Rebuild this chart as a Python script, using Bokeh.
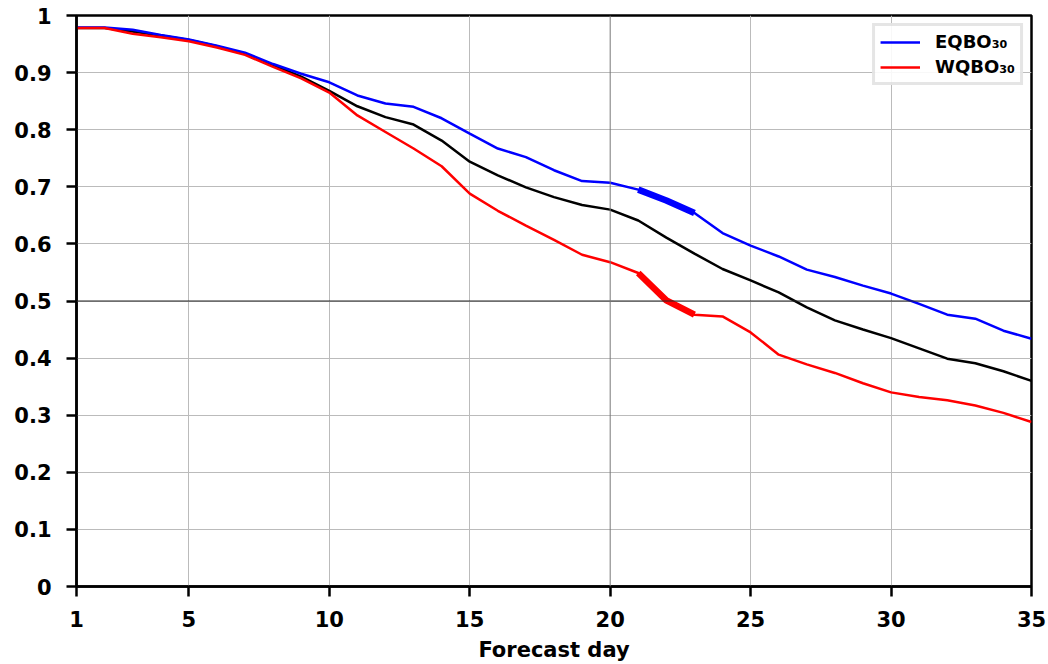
from bokeh.plotting import figure
from bokeh.models import FixedTicker, Span, Legend, LegendItem, Range1d
from bokeh.embed import file_html
from bokeh.resources import INLINE

days = list(range(1, 36))
eqbo = [0.979, 0.979, 0.975, 0.966, 0.958, 0.947, 0.935, 0.915, 0.898, 0.883,
        0.860, 0.846, 0.840, 0.820, 0.793, 0.767, 0.752, 0.729, 0.710, 0.707,
        0.695, 0.676, 0.654, 0.619, 0.597, 0.578, 0.555, 0.542, 0.527, 0.513,
        0.495, 0.476, 0.469, 0.448, 0.434]
allqbo = [0.978, 0.978, 0.972, 0.965, 0.957, 0.946, 0.933, 0.913, 0.893, 0.868,
          0.841, 0.822, 0.809, 0.781, 0.744, 0.720, 0.699, 0.682, 0.668, 0.660,
          0.641, 0.611, 0.583, 0.556, 0.536, 0.515, 0.489, 0.466, 0.450, 0.435,
          0.417, 0.399, 0.391, 0.377, 0.360]
wqbo = [0.978, 0.978, 0.968, 0.962, 0.955, 0.944, 0.931, 0.910, 0.890, 0.865,
        0.825, 0.796, 0.767, 0.736, 0.688, 0.658, 0.632, 0.607, 0.581, 0.568,
        0.549, 0.501, 0.476, 0.473, 0.445, 0.406, 0.389, 0.374, 0.356, 0.340,
        0.332, 0.326, 0.317, 0.304, 0.288]
sig_days = [21, 22, 23]
x_ticks = [1, 5, 10, 15, 20, 25, 30, 35]
y_ticks = [0, 0.1, 0.2, 0.3, 0.4, 0.5, 0.6, 0.7, 0.8, 0.9, 1]
y_labels = ["0", "0.1", "0.2", "0.3", "0.4", "0.5", "0.6", "0.7", "0.8", "0.9", "1"]
x_title = "Forecast day"

FONT = "DejaVu Sans"

p = figure(width=1048, height=664, output_backend="svg", toolbar_location=None,
           x_range=Range1d(1, 35), y_range=Range1d(0, 1),
           min_border_left=76, min_border_right=17, min_border_top=15, min_border_bottom=78)
p.background_fill_color = "white"
p.border_fill_color = "white"
p.outline_line_color = "black"
p.outline_line_width = 2.5

p.xaxis.ticker = FixedTicker(ticks=x_ticks)
p.yaxis.ticker = FixedTicker(ticks=y_ticks)
p.yaxis.major_label_overrides = {t: l for t, l in zip(y_ticks, y_labels)}
for ax in (p.xaxis, p.yaxis):
    ax.axis_line_width = 2.5
    ax.major_tick_line_width = 2.5
    ax.major_tick_out = 10
    ax.major_tick_in = 0
    ax.minor_tick_line_color = None
    ax.major_label_text_font = FONT
    ax.major_label_text_font_style = "bold"
    ax.major_label_text_font_size = "21px"
    ax.major_label_text_color = "black"
    ax.axis_label_text_font = FONT
    ax.axis_label_text_font_style = "bold"
    ax.axis_label_text_font_size = "21px"
    ax.axis_label_text_color = "black"
p.xaxis.axis_label = x_title
p.xaxis.major_label_standoff = 14
p.xaxis.axis_label_standoff = 8
p.yaxis.major_label_standoff = 15

p.xgrid.ticker = FixedTicker(ticks=[5, 10, 15, 25, 30])
p.xgrid.grid_line_color = "#bbbbbb"
p.xgrid.grid_line_width = 1
p.ygrid.grid_line_color = "#bbbbbb"
p.ygrid.grid_line_width = 1

p.add_layout(Span(location=0.5, dimension="width", line_color="#222222", line_width=1))
p.add_layout(Span(location=20, dimension="height", line_color="#777777", line_width=1))

p.line(days, allqbo, line_color="black", line_width=2.5)
rb = p.line(days, eqbo, line_color="#0000ff", line_width=2.5)
rr = p.line(days, wqbo, line_color="#ff0000", line_width=2.5)

i0 = days.index(sig_days[0]); i1 = days.index(sig_days[-1]) + 1
p.line(days[i0:i1], eqbo[i0:i1], line_color="#0000ff", line_width=6.5)
p.line(days[i0:i1], wqbo[i0:i1], line_color="#ff0000", line_width=6.5)

legend = Legend(items=[LegendItem(label="EQBO\u2083\u2080", renderers=[rb]),
                       LegendItem(label="WQBO\u2083\u2080", renderers=[rr])],
                location="top_right")
legend.label_text_font = FONT
legend.label_text_font_style = "bold"
legend.label_text_font_size = "18px"
legend.label_text_color = "black"
legend.label_standoff = 15
legend.border_line_color = "#cccccc"
legend.border_line_width = 3
legend.background_fill_color = "white"
legend.background_fill_alpha = 0.9
legend.glyph_width = 40
legend.spacing = 4
legend.padding = 5
legend.margin = 8
p.add_layout(legend)

open("out.html", "w").write(file_html(p, INLINE))
